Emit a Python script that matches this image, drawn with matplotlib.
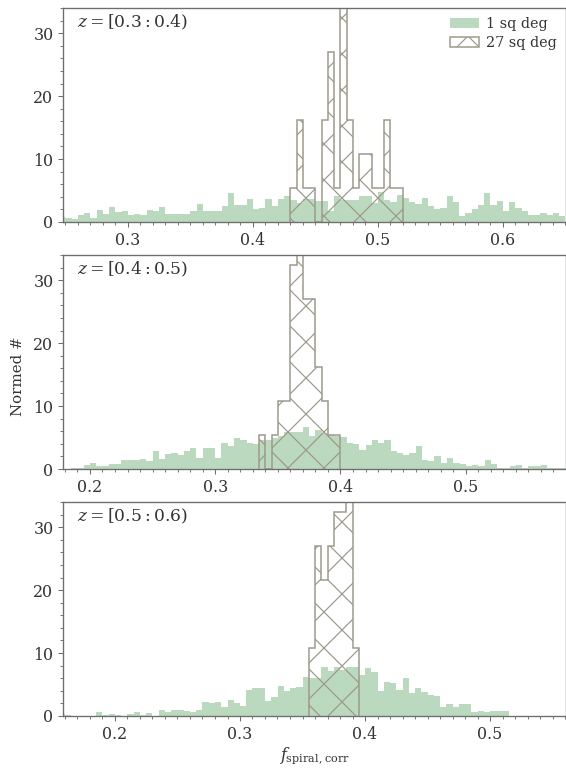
import numpy as np
import matplotlib
matplotlib.use("Agg")
import matplotlib.pyplot as plt
from matplotlib.ticker import MultipleLocator
from matplotlib.patches import Patch

# bin width shared by every histogram
bin_w = 0.005

# ---- 1 sq deg (green) histograms, one value per bin ----
green1_start = 0.245
green1 = [0.85, 0.7, 0.4, 1.1, 1.5, 0.7, 1.9, 1.3, 2.4, 1.6,
          1.7, 1.1, 1.3, 1.1, 1.9, 1.7, 2.4, 1.3, 1.3, 1.3,
          1.3, 1.7, 2.9, 1.7, 1.7, 1.7, 2.6, 4.6, 2.7, 2.7,
          3.7, 2.0, 2.2, 3.7, 2.6, 3.7, 4.1, 3.5, 3.0, 3.6,
          3.6, 3.4, 3.4, 1.8, 4.1, 3.5, 3.5, 3.5, 4.2, 4.2,
          3.0, 4.7, 3.5, 3.2, 4.3, 3.8, 3.2, 2.9, 3.8, 2.5,
          2.0, 2.2, 4.2, 3.2, 1.0, 1.5, 2.0, 2.7, 4.6, 2.7,
          3.3, 1.7, 3.1, 2.3, 1.7, 1.1, 1.1, 1.5, 1.1, 1.5,
          1.0]

green2_start = 0.180
green2 = [0.0, 0.1, 0.1, 0.6, 1.0, 0.4, 0.4, 0.8, 0.8, 1.4,
          1.4, 1.4, 1.6, 1.2, 2.8, 1.6, 2.4, 2.6, 2.2, 2.8,
          3.4, 1.8, 3.4, 3.4, 1.8, 4.2, 3.6, 5.0, 4.6, 4.2,
          4.0, 4.6, 4.6, 5.0, 5.3, 5.8, 5.8, 5.8, 6.6, 5.3,
          6.2, 5.7, 5.4, 5.2, 5.1, 4.2, 4.0, 3.0, 3.8, 4.6,
          4.1, 4.6, 2.8, 2.6, 2.2, 2.5, 3.6, 1.4, 1.3, 2.0,
          1.0, 1.8, 1.0, 0.8, 0.4, 0.6, 0.4, 1.5, 0.8, 0.2,
          0.1, 0.4, 0.6, 0.2, 0.4, 0.4, 0.6, 0.2, 0.1, 0.1]

green3_start = 0.155
green3 = [0.3, 0.2, 0.0, 0.0, 0.0, 0.0, 0.6, 0.15, 0.3, 0.1,
          0.0, 0.3, 0.6, 0.1, 0.5, 0.0, 1.0, 0.6, 1.0, 1.0,
          0.8, 0.6, 1.0, 2.2, 2.0, 2.2, 1.4, 2.6, 2.0, 1.6,
          4.2, 4.4, 4.4, 2.4, 3.0, 4.8, 4.0, 4.4, 4.6, 6.2,
          6.1, 6.0, 7.8, 7.2, 7.8, 7.3, 7.8, 7.8, 6.5, 7.6,
          7.0, 4.0, 5.4, 5.2, 4.2, 6.0, 3.6, 4.4, 3.8, 3.4,
          3.1, 1.4, 1.9, 1.4, 1.9, 1.9, 0.6, 0.75, 0.6, 0.75,
          0.75, 0.75]

# ---- 27 sq deg (hatched) histograms ----
wide1_start = 0.430
wide1 = [5.4, 16.2, 5.4, 5.4, 0.0, 16.2, 27.0, 5.4, 37.8, 16.2,
         5.4, 10.8, 10.8, 5.4, 5.4, 16.2, 5.4, 5.4]

wide2_start = 0.335
wide2 = [5.4, 0.0, 5.4, 10.8, 10.8, 32.4, 43.2, 27.0, 27.0, 16.2,
         10.8, 5.4, 5.4]

wide3_start = 0.355
wide3 = [10.8, 27.0, 21.6, 27.0, 32.4, 32.4, 37.8, 10.8]

panels = [
    ("$z = [0.3 : 0.4)$", (0.248, 0.6505), green1_start, green1, wide1_start, wide1),
    ("$z = [0.4 : 0.5)$", (0.1785, 0.580), green2_start, green2, wide2_start, wide2),
    ("$z = [0.5 : 0.6)$", (0.1584, 0.5608), green3_start, green3, wide3_start, wide3),
]

green_c = "#bad9bf"
hatch_c = "#9c988a"
spine_c = "#6e6e6e"
text_c = "#333333"

DPI = 216
plt.rcParams["font.family"] = "DejaVu Serif"
plt.rcParams["mathtext.fontset"] = "dejavuserif"
plt.rcParams["hatch.linewidth"] = 0.4
plt.rcParams["text.color"] = text_c
plt.rcParams["axes.labelcolor"] = text_c
plt.rcParams["xtick.color"] = spine_c
plt.rcParams["ytick.color"] = spine_c
plt.rcParams["xtick.labelcolor"] = text_c
plt.rcParams["ytick.labelcolor"] = text_c

fig = plt.figure(figsize=(566 / DPI, 769 / DPI), dpi=DPI)

# axes boxes in pixels: top, bottom
boxes = [(8, 222), (255, 469), (502, 716)]
left_px, right_px = 63, 566

axes = []
for (top, bot), (zlab, xlim, gs, gv, ws, wv) in zip(boxes, panels):
    ax = fig.add_axes([left_px / 566, 1 - bot / 769,
                       (right_px - left_px) / 566, (bot - top) / 769])
    g_edges = gs + bin_w * np.arange(len(gv) + 1)
    w_edges = ws + bin_w * np.arange(len(wv) + 1)
    ax.stairs(gv, g_edges, fill=True, color=green_c, linewidth=0, zorder=1)
    ax.stairs(wv, w_edges, fill=True, facecolor="none", edgecolor=hatch_c,
              hatch="xx", linewidth=0.5, zorder=2)
    ax.set_xlim(*xlim)
    ax.set_ylim(0, 34)
    ax.xaxis.set_major_locator(MultipleLocator(0.1))
    ax.xaxis.set_minor_locator(MultipleLocator(0.01))
    ax.yaxis.set_major_locator(MultipleLocator(10))
    ax.yaxis.set_minor_locator(MultipleLocator(2))
    ax.tick_params(which="major", direction="out", length=1.7, width=0.35,
                   labelsize=5.3, pad=1.5)
    ax.tick_params(which="minor", direction="out", length=1.0, width=0.3)
    for s in ax.spines.values():
        s.set_color(spine_c)
        s.set_linewidth(0.45)
    ax.text(0.028, 0.935, zlab, transform=ax.transAxes, fontsize=5.7,
            ha="left", va="center")
    axes.append(ax)

handles = [Patch(facecolor=green_c, edgecolor="none", label="1 sq deg"),
           Patch(facecolor="none", edgecolor=hatch_c, hatch="x",
                 linewidth=0.5, label="27 sq deg")]
axes[0].legend(handles=handles, loc="upper right", frameon=False,
               fontsize=4.8, borderaxespad=0.25, handletextpad=0.5,
               labelspacing=0.3, handlelength=2.0)

fig.text(18 / 566, 1 - 376 / 769, "Normed #", fontsize=5.0, rotation=90,
         ha="center", va="center")
axes[2].set_xlabel(r"$f_{\rm spiral,corr}$", fontsize=5.4, labelpad=0.8)

fig.savefig("out.png", dpi=DPI)
